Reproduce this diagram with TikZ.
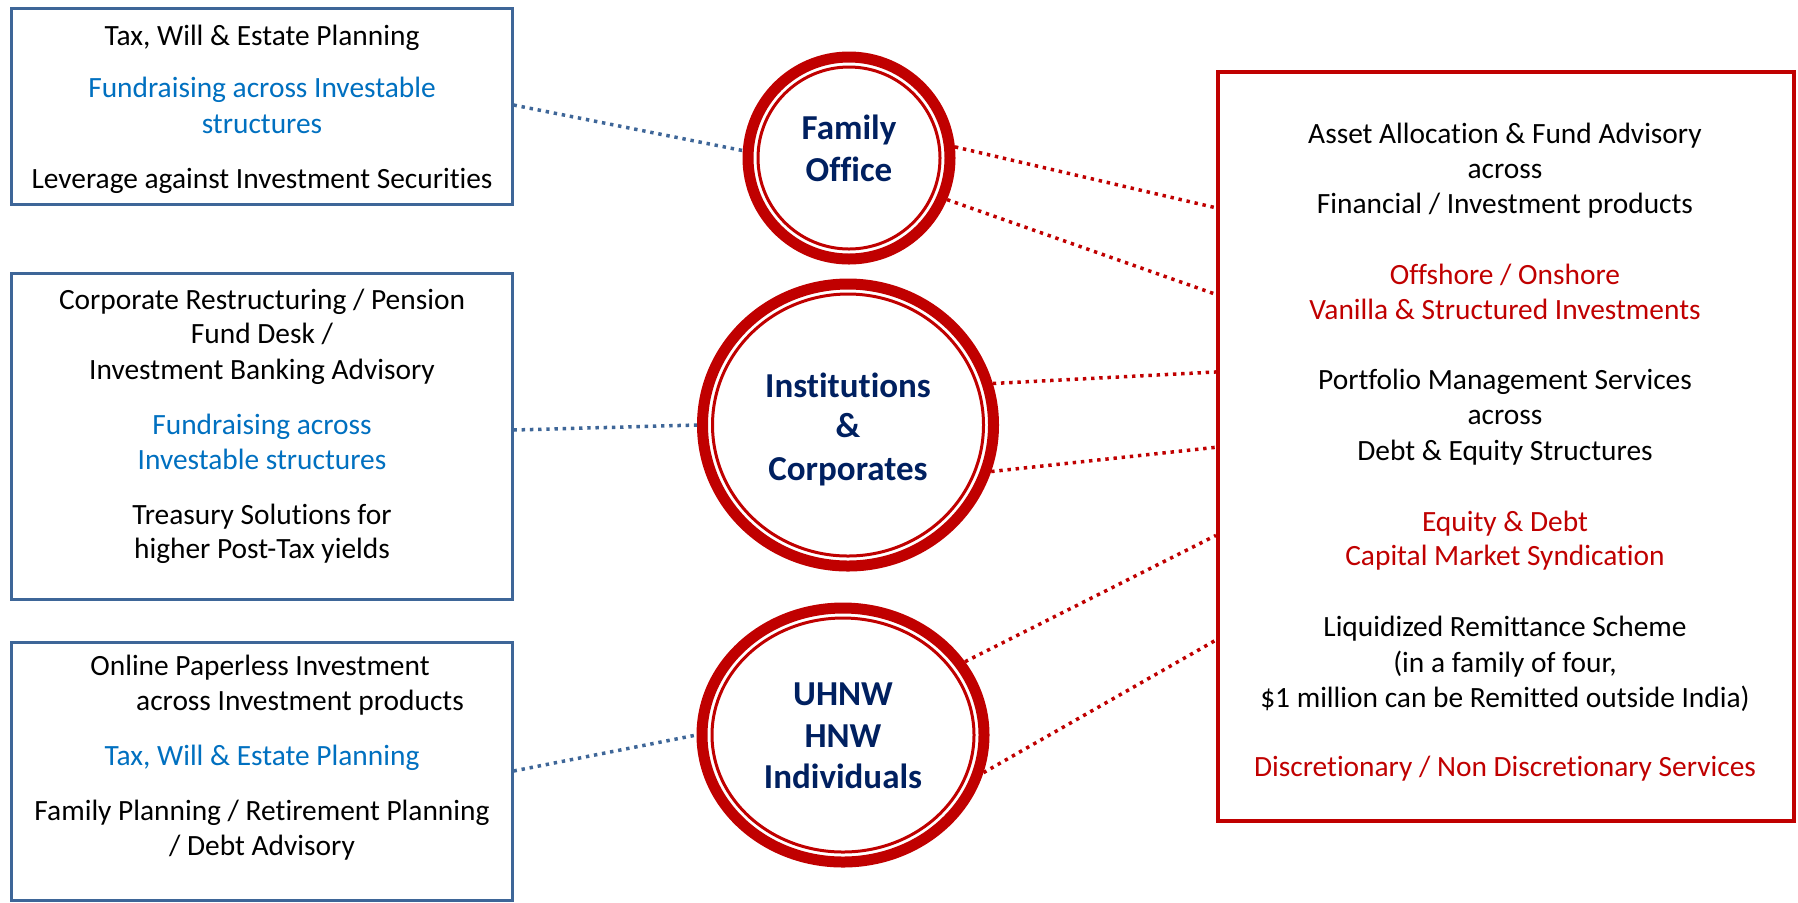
\documentclass[tikz,border=0pt]{standalone}
\usepackage{fontspec}
\setmainfont{Carlito}[Ligatures=NoCommon]
\usetikzlibrary{shapes.geometric,calc}
\definecolor{boxblue}{HTML}{3E6698}
\definecolor{txtblue}{HTML}{0070C0}
\definecolor{dred}{HTML}{C00000}
\definecolor{navy}{HTML}{002060}
\begin{document}
\begin{tikzpicture}[x=0.5pt,y=-0.5pt,
 bluebox/.style={draw=boxblue, line width=1.5pt, rectangle, inner sep=0pt},
 redbox/.style={draw=dred, line width=2pt, rectangle, inner sep=0pt},
 ring/.style={ellipse, draw=dred, line width=5.5pt, inner sep=0pt},
 thinring/.style={draw=dred, line width=1.5pt},
 ringtxt/.style={anchor=base, inner sep=0pt, text=navy, font=\fontsize{17.5}{21}\selectfont\bfseries},
 txt/.style={anchor=base, inner sep=0pt, font=\fontsize{14.7}{17}\selectfont},
 blk/.style={txt, text=black},
 lblue/.style={txt, text=txtblue},
 lred/.style={txt, text=dred},
 bluelink/.style={draw=boxblue, line width=1.75pt, dash pattern=on 1.7pt off 2.4pt},
 redlink/.style={draw=dred, line width=1.75pt, dash pattern=on 1.7pt off 2.4pt},
]
\useasboundingbox (0,0) rectangle (1798,902);
\fill[white] (0,0) rectangle (1798,902);

% left boxes
\node[bluebox, minimum width=250.5pt, minimum height=98pt] (box1) at (261.5,106) {};
\node[bluebox, minimum width=250.5pt, minimum height=163pt] (box2) at (261.5,436) {};
\node[bluebox, minimum width=250.5pt, minimum height=129pt] (box3) at (261.5,771) {};
% right box
\node[redbox, minimum width=288pt, minimum height=374.5pt] (rbox) at (1506,446.5) {};

% rings
\node[ring, minimum width=101pt, minimum height=101pt] (fo) at (849,158) {};
\draw[thinring] (fo.center) ellipse [x radius=45.5pt, y radius=45.5pt];
\node[ringtxt] (fo1) at (849,139) {Family};
\node[ringtxt] (fo2) at (849,181) {Office};

\node[ring, minimum width=145.5pt, minimum height=141pt] (inst) at (848,425) {};
\draw[thinring] (inst.center) ellipse [x radius=67.75pt, y radius=65.5pt];
\node[ringtxt] (in1) at (848,397) {Institutions};
\node[ringtxt] (in2) at (848,437) {\&};
\node[ringtxt] (in3) at (848,480) {Corporates};

\node[ring, minimum width=141pt, minimum height=127pt] (uh) at (843,735) {};
\draw[thinring] (uh.center) ellipse [x radius=65.5pt, y radius=58.5pt];
\node[ringtxt] (uh1) at (843,705) {UHNW};
\node[ringtxt] (uh2) at (843,747) {HNW};
\node[ringtxt] (uh3) at (843,788) {Individuals};

% box 1 text
\node[blk] (t11) at (262,45) {Tax, Will \& Estate Planning};
\node[lblue] (t12) at (262,97) {Fundraising across Investable};
\node[lblue] (t13) at (262,133) {structures};
\node[blk] (t14) at (262,188) {Leverage against Investment Securities};

% box 2 text
\node[blk] (t21) at (262,309) {Corporate Restructuring / Pension};
\node[blk] (t22) at (262,343) {Fund Desk /};
\node[blk] (t23) at (262,379) {Investment Banking Advisory};
\node[lblue] (t24) at (262,434) {Fundraising across};
\node[lblue] (t25) at (262,469) {Investable structures};
\node[blk] (t26) at (262,524) {Treasury Solutions for};
\node[blk] (t27) at (262,558) {higher Post-Tax yields};

% box 3 text
\node[blk] (t31) at (260,675) {Online Paperless Investment};
\node[blk] (t32) at (300,710) {across Investment products};
\node[lblue] (t33) at (262,765) {Tax, Will \& Estate Planning};
\node[blk] (t34) at (262,820) {Family Planning / Retirement Planning};
\node[blk] (t35) at (262,855) {/ Debt Advisory};

% right box text
\node[blk] (r01) at (1505,143) {Asset Allocation \& Fund Advisory};
\node[blk] (r02) at (1505,178) {across};
\node[blk] (r03) at (1505,213) {Financial / Investment products};
\node[lred] (r04) at (1505,284) {Offshore / Onshore};
\node[lred] (r05) at (1505,319) {Vanilla \& Structured Investments};
\node[blk] (r06) at (1505,389) {Portfolio Management Services};
\node[blk] (r07) at (1505,424) {across};
\node[blk] (r08) at (1505,460) {Debt \& Equity Structures};
\node[lred] (r09) at (1505,531) {Equity \& Debt};
\node[lred] (r10) at (1505,565) {Capital Market Syndication};
\node[blk] (r11) at (1505,636) {Liquidized Remittance Scheme};
\node[blk] (r12) at (1505,672) {(in a family of four,};
\node[blk] (r13) at (1505,707) {\$1 million can be Remitted outside India)};
\node[lred] (r14) at (1505,776) {Discretionary / Non Discretionary Services};

% anchor points on the right box
\coordinate (p1) at ($(rbox.north west)!0.183!(rbox.south west)$);
\coordinate (p2) at ($(rbox.north west)!0.298!(rbox.south west)$);
\coordinate (p3) at ($(rbox.north west)!0.401!(rbox.south west)$);
\coordinate (p4) at ($(rbox.north west)!0.501!(rbox.south west)$);
\coordinate (p5) at ($(rbox.north west)!0.618!(rbox.south west)$);
\coordinate (p6) at ($(rbox.north west)!0.757!(rbox.south west)$);

% blue links
\draw[bluelink] ($(box1.east)+(0,-1)$) -- (fo.176);
\draw[bluelink] ($(box2.east)+(0,-6)$) -- (inst.180);
\draw[bluelink] (box3.east) -- (uh.180);

% red links
\draw[redlink] (fo.6.5) -- (p1);
\draw[redlink] (fo.-23) -- (p2);
\draw[redlink] (inst.16) -- (p3);
\draw[redlink] (inst.-18) -- (p4);
\draw[redlink] (uh.31) -- (p5);
\draw[redlink] (uh.-15) -- (p6);
\end{tikzpicture}
\end{document}
